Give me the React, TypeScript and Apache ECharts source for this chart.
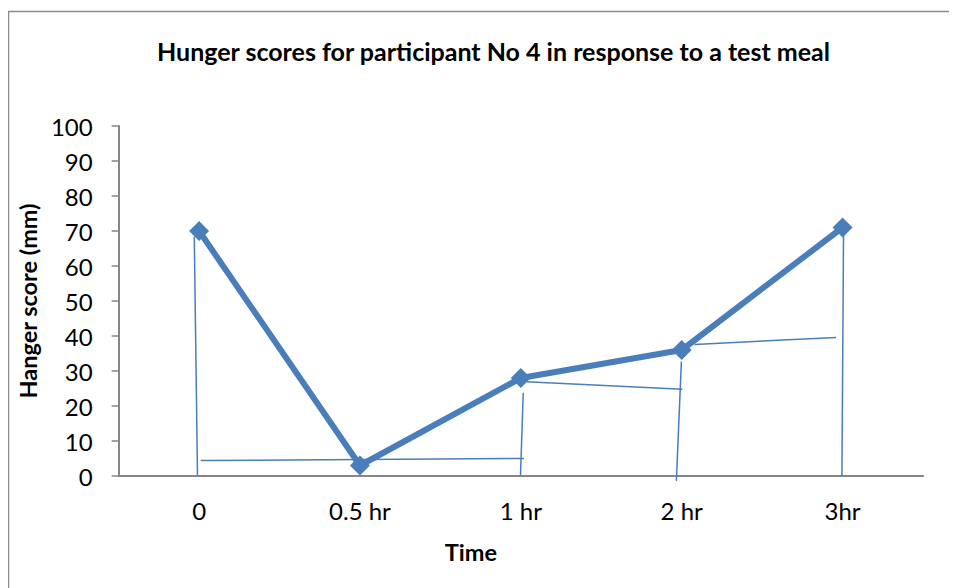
import React, { useEffect, useRef } from "react";
import * as echarts from "echarts";

const titleText = "Hunger scores for participant No 4 in response to a test meal";
const categories = ["0", "0.5 hr", "1 hr", "2 hr", "3hr"];
const hungerScores = [70, 3, 28, 36, 71];
const yTicks = { min: 0, max: 100, interval: 10 };

// Hand-drawn annotation strokes, [categoryPosition, score] pairs
const annoVert0 = [[-0.03, 68.4], [-0.01, 0.3]];
const annoHoriz05 = [[0.01, 4.4], [2.02, 5.0]];
const annoVert1 = [[2.015, 23.8], [1.998, 0.3]];
const annoLink12 = [[2.035, 26.9], [3.004, 24.8]];
const annoVert2 = [[2.998, 32.7], [2.967, -1.4]];
const annoLink23 = [[3.08, 37.6], [3.96, 39.6]];
const annoVert3 = [[4.006, 68.9], [3.996, 0.0]];
const annotations = [annoVert0, annoHoriz05, annoVert1, annoLink12, annoVert2, annoLink23, annoVert3];

const FONT = "Lato, 'Open Sans', sans-serif";
const BLUE = "#4a7ebb";
const AXIS = "#868686";

export default function App() {
  const ref = useRef<HTMLDivElement>(null);
  useEffect(() => {
    if (!ref.current) return;
    const chart = echarts.init(ref.current, undefined, { renderer: "svg" });
    chart.setOption({
      animation: false,
      backgroundColor: "#ffffff",
      textStyle: { fontFamily: FONT },
      graphic: [
        {
          type: "rect",
          shape: { x: 0.5, y: 3.5, width: 1200, height: 1200 },
          style: { fill: "none", stroke: "#8c8c8c", lineWidth: 1.5 },
          silent: true,
          z: -10,
        },
      ],
      title: {
        text: titleText,
        left: 144,
        top: 25,
        textStyle: { fontFamily: FONT, fontWeight: "bold", fontSize: 25, color: "#000" },
      },
      grid: { left: 110, top: 118, right: 34, bottom: 112 },
      xAxis: [
        {
          type: "category",
          data: categories,
          boundaryGap: true,
          name: "Time",
          nameLocation: "middle",
          nameGap: 64,
          nameTextStyle: {
            fontFamily: FONT,
            fontWeight: "bold",
            fontSize: 23.5,
            color: "#000",
            padding: [0, 100, 0, 0],
          },
          axisLine: { onZero: false, lineStyle: { color: AXIS, width: 2 } },
          axisTick: { show: false },
          axisLabel: { fontFamily: FONT, fontSize: 24, color: "#000", margin: 22 },
        },
        {
          type: "value",
          min: -0.5,
          max: 4.5,
          show: false,
          axisLine: { onZero: false },
        },
      ],
      yAxis: {
        type: "value",
        min: yTicks.min,
        max: yTicks.max,
        interval: yTicks.interval,
        name: "Hanger score (mm)",
        nameLocation: "middle",
        nameGap: 75,
        nameTextStyle: { fontFamily: FONT, fontWeight: "bold", fontSize: 23.5, color: "#000" },
        axisLine: { show: true, onZero: false, lineStyle: { color: AXIS, width: 2 } },
        axisTick: { show: true, inside: false, length: 7, lineStyle: { color: AXIS, width: 1.5 } },
        axisLabel: { fontFamily: FONT, fontSize: 24, color: "#000", margin: 26 },
        splitLine: { show: false },
      },
      series: [
        ...annotations.map((seg) => ({
          type: "line",
          xAxisIndex: 1,
          data: seg,
          showSymbol: false,
          symbol: "none",
          clip: false,
          silent: true,
          lineStyle: { color: BLUE, width: 1.5 },
          z: 1,
        })),
        {
          type: "line",
          xAxisIndex: 0,
          data: hungerScores,
          symbol: "diamond",
          symbolSize: 20,
          itemStyle: { color: BLUE },
          lineStyle: { color: BLUE, width: 6 },
          z: 3,
        },
      ],
    });
    return () => chart.dispose();
  }, []);
  return <div ref={ref} style={{ width: 949, height: 580 }} />;
}
